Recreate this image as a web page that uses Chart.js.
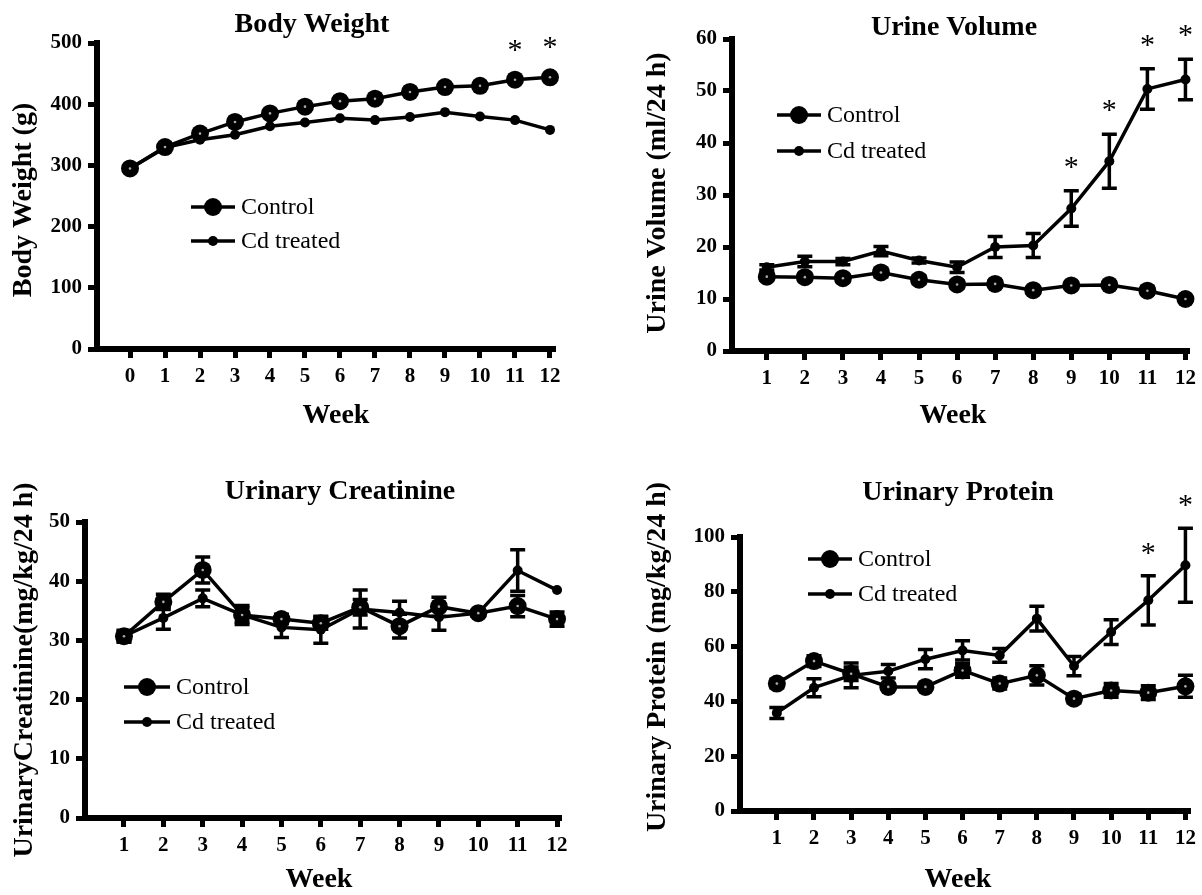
<!DOCTYPE html>
<html lang="en">
<head>
    <meta charset="UTF-8">
    <title>Body Weight and Urine Parameters</title>
    <script src="https://cdn.jsdelivr.net/npm/chart.js"></script>
    <style>
        body {
            margin: 0;
            padding: 0;
            background: #fff;
            width: 1202px;
            height: 895px;
            overflow: hidden;
            position: relative;
        }
        .panel {
            position: absolute;
            width: 601px;
            height: 448px;
        }
        canvas {
            display: block;
        }
    </style>
</head>
<body>
    <div class="panel" style="left:0;top:0"><canvas id="c1" width="601" height="448"></canvas></div>
    <div class="panel" style="left:601px;top:0"><canvas id="c2" width="601" height="448"></canvas></div>
    <div class="panel" style="left:0;top:447px"><canvas id="c3" width="601" height="448"></canvas></div>
    <div class="panel" style="left:601px;top:447px"><canvas id="c4" width="601" height="448"></canvas></div>

    <script>
        // weeks
        const weeksBW = [0, 1, 2, 3, 4, 5, 6, 7, 8, 9, 10, 11, 12];
        const weeks = [1, 2, 3, 4, 5, 6, 7, 8, 9, 10, 11, 12];

        // Body weight (g)
        const bwControl = [295, 330, 352, 371, 385, 396, 405, 409, 420, 428, 430, 440, 444];
        const bwCd = [295, 329, 342, 350, 364, 370, 377, 374, 379, 387, 380, 374, 358];
        const bwStars = [11, 12];
        const bwTicks = [0, 100, 200, 300, 400, 500];

        // Urine volume (ml/24 h)
        const uvControl = [14.3, 14.2, 14.0, 15.1, 13.7, 12.8, 12.9, 11.7, 12.6, 12.7, 11.6, 10.0];
        const uvControlErr = [0.7, 0.7, 0.7, 0.8, 0.7, 0.7, 0.6, 0.6, 0.6, 0.6, 0.7, 0.6];
        const uvCd = [16.1, 17.2, 17.2, 19.2, 17.4, 16.1, 20.0, 20.3, 27.4, 36.5, 50.4, 52.2];
        const uvCdErr = [0.5, 1.0, 0.6, 0.9, 0.5, 1.0, 2.0, 2.3, 3.4, 5.2, 3.9, 3.9];
        const uvStars = [9, 10, 11, 12];
        const uvTicks = [0, 10, 20, 30, 40, 50, 60];

        // Urinary creatinine (mg/kg/24 h)
        const ucControl = [30.7, 36.5, 41.9, 34.3, 33.6, 32.9, 35.6, 32.4, 35.7, 34.6, 35.8, 33.6];
        const ucControlErr = [1.0, 1.3, 2.2, 1.6, 0.8, 1.0, 1.3, 2.0, 1.6, 0.5, 1.8, 1.2];
        const ucCd = [30.7, 33.8, 37.1, 34.3, 32.2, 31.8, 35.3, 34.7, 33.9, 34.6, 41.8, 38.5];
        const ucCdErr = [0.8, 1.9, 1.4, 1.2, 1.7, 2.3, 3.2, 1.9, 2.2, 0.5, 3.5, 0];
        const ucTicks = [0, 10, 20, 30, 40, 50];

        // Urinary protein (mg/kg/24 h)
        const upControl = [46.5, 54.7, 50.1, 45.3, 45.3, 51.3, 46.5, 49.5, 41.0, 44.0, 43.2, 45.5];
        const upControlErr = [1.5, 2.0, 2.5, 1.0, 1.0, 2.5, 2.0, 3.5, 1.5, 2.5, 2.5, 4.0];
        const upCd = [35.8, 45.0, 49.5, 51.0, 55.4, 58.6, 56.8, 70.2, 52.9, 65.3, 76.9, 89.7];
        const upCdErr = [2.0, 3.3, 4.5, 2.5, 3.5, 3.5, 2.5, 4.5, 3.5, 4.5, 9.0, 13.5];
        const upStars = [11, 12];
        const upTicks = [0, 20, 40, 60, 80, 100];

        const serif = "'Liberation Serif', 'Times New Roman', serif";
        const W = 601, H = 448;

        // geometry in page pixels
        const panels = [
            {
                id: "c1", ox: 0, oy: 0,
                area: { left: 97, top: 43, right: 553, bottom: 349 },
                xMin: -0.943, xMax: 12.086, xs: weeksBW, yTicks: bwTicks,
                control: bwControl, cd: bwCd, controlErr: null, cdErr: null,
                stars: bwStars, starGap: 35,
                title: "Body Weight", titleX: 312, titleY: 25,
                yTitle: "Body Weight (g)", yTitleX: 24, yTitleY: 200,
                weekX: 336, weekY: 416,
                legX1: 191, legX2: 235, legY1: 207, legY2: 241
            },
            {
                id: "c2", ox: 601, oy: 0,
                area: { left: 732, top: 39, right: 1190, bottom: 351 },
                xMin: 0.086, xMax: 12.05, xs: weeks, yTicks: uvTicks,
                control: uvControl, cd: uvCd, controlErr: uvControlErr, cdErr: uvCdErr,
                stars: uvStars, starGap: 29,
                title: "Urine Volume", titleX: 954, titleY: 28,
                yTitle: "Urine Volume (ml/24 h)", yTitleX: 658, yTitleY: 193,
                weekX: 953, weekY: 416,
                legX1: 777, legX2: 821, legY1: 115, legY2: 151
            },
            {
                id: "c3", ox: 0, oy: 447,
                area: { left: 85, top: 522, right: 559, bottom: 818 },
                xMin: 0.01, xMax: 12.05, xs: weeks, yTicks: ucTicks,
                control: ucControl, cd: ucCd, controlErr: ucControlErr, cdErr: ucCdErr,
                stars: [], starGap: 29,
                title: "Urinary Creatinine", titleX: 340, titleY: 492,
                yTitle: "UrinaryCreatinine(mg/kg/24 h)", yTitleX: 25, yTitleY: 670,
                weekX: 319, weekY: 880,
                legX1: 124, legX2: 170, legY1: 687, legY2: 722
            },
            {
                id: "c4", ox: 601, oy: 447,
                area: { left: 740, top: 537, right: 1190, bottom: 811 },
                xMin: 0.008, xMax: 12.07, xs: weeks, yTicks: upTicks,
                control: upControl, cd: upCd, controlErr: upControlErr, cdErr: upCdErr,
                stars: upStars, starGap: 28,
                title: "Urinary Protein", titleX: 958, titleY: 493,
                yTitle: "Urinary Protein (mg/kg/24 h)", yTitleX: 658, yTitleY: 657,
                weekX: 958, weekY: 880,
                legX1: 808, legX2: 852, legY1: 559, legY2: 594
            }
        ];

        // error bars, asterisks, titles and legend
        const decor = {
            id: "decor",
            afterDatasetsDraw(chart) {
                const p = chart.options.plugins.decor.panel;
                const ctx = chart.ctx;
                const xS = chart.scales.x, yS = chart.scales.y;
                ctx.save();
                ctx.strokeStyle = "#000";
                ctx.fillStyle = "#000";

                // error bars
                [p.controlErr, p.cdErr].forEach((err, k) => {
                    if (!err) return;
                    const vals = k === 0 ? p.control : p.cd;
                    ctx.lineWidth = 3.5;
                    err.forEach((e, i) => {
                        if (!e) return;
                        const x = xS.getPixelForValue(p.xs[i]);
                        const y1 = yS.getPixelForValue(vals[i] + e);
                        const y2 = yS.getPixelForValue(vals[i] - e);
                        ctx.beginPath();
                        ctx.moveTo(x, y1); ctx.lineTo(x, y2);
                        ctx.moveTo(x - 7.5, y1); ctx.lineTo(x + 7.5, y1);
                        ctx.moveTo(x - 7.5, y2); ctx.lineTo(x + 7.5, y2);
                        ctx.stroke();
                    });
                });

                // small light spot in the middle of the control markers
                ctx.fillStyle = "#aaa";
                chart.getDatasetMeta(0).data.forEach((pt) => {
                    ctx.beginPath();
                    ctx.arc(pt.x, pt.y, 1.3, 0, Math.PI * 2);
                    ctx.fill();
                });
                ctx.fillStyle = "#000";

                // significance asterisks
                ctx.font = "30px " + serif;
                ctx.textAlign = "center";
                ctx.textBaseline = "alphabetic";
                p.stars.forEach((w) => {
                    const i = p.xs.indexOf(w);
                    const top = Math.max(p.control[i] + (p.controlErr ? p.controlErr[i] : 0),
                                         p.cd[i] + (p.cdErr ? p.cdErr[i] : 0));
                    const x = xS.getPixelForValue(w);
                    const y = yS.getPixelForValue(top) - p.starGap;
                    ctx.fillText("*", x, y + 14);
                });

                // texts
                const ox = p.ox, oy = p.oy;
                ctx.textBaseline = "middle";
                ctx.font = "bold 28px " + serif;
                ctx.fillText(p.title, p.titleX - ox, p.titleY - oy);
                ctx.fillText("Week", p.weekX - ox, p.weekY - oy);
                ctx.save();
                ctx.translate(p.yTitleX - ox, p.yTitleY - oy);
                ctx.rotate(-Math.PI / 2);
                ctx.fillText(p.yTitle, 0, 0);
                ctx.restore();

                // legend
                const items = [["Control", p.legY1, 9], ["Cd treated", p.legY2, 5]];
                ctx.font = "24px " + serif;
                ctx.textAlign = "left";
                items.forEach(([label, ly, r]) => {
                    const x1 = p.legX1 - ox, x2 = p.legX2 - ox, y = ly - oy;
                    ctx.lineWidth = 3.5;
                    ctx.beginPath();
                    ctx.moveTo(x1, y); ctx.lineTo(x2, y);
                    ctx.stroke();
                    ctx.beginPath();
                    ctx.arc((x1 + x2) / 2, y, r, 0, Math.PI * 2);
                    ctx.fill();
                    ctx.fillText(label, x2 + 6, y + 1);
                });
                ctx.restore();
            }
        };

        panels.forEach((p) => {
            const a = p.area;
            const yMax = p.yTicks[p.yTicks.length - 1];
            new Chart(document.getElementById(p.id), {
                type: "line",
                data: {
                    datasets: [
                        {
                            label: "Control",
                            data: p.xs.map((w, i) => ({ x: w, y: p.control[i] })),
                            borderColor: "#000",
                            borderWidth: 3.5,
                            pointRadius: 9,
                            pointBackgroundColor: "#000",
                            pointBorderWidth: 0,
                            tension: 0,
                            clip: false
                        },
                        {
                            label: "Cd treated",
                            data: p.xs.map((w, i) => ({ x: w, y: p.cd[i] })),
                            borderColor: "#000",
                            borderWidth: 3.5,
                            pointRadius: 5,
                            pointBackgroundColor: "#000",
                            pointBorderWidth: 0,
                            tension: 0,
                            clip: false
                        }
                    ]
                },
                options: {
                    responsive: false,
                    animation: false,
                    events: [],
                    layout: {
                        padding: { left: 0, top: a.top - p.oy, right: p.ox + W - a.right, bottom: 0 }
                    },
                    scales: {
                        x: {
                            type: "linear",
                            min: p.xMin,
                            max: p.xMax,
                            afterBuildTicks: (s) => { s.ticks = p.xs.map((v) => ({ value: v })); },
                            afterFit: (s) => { s.height = p.oy + H - a.bottom; },
                            grid: { drawOnChartArea: false, drawTicks: true, tickLength: 9, lineWidth: 5, color: "#000" },
                            border: { display: true, width: 6, color: "#000" },
                            ticks: { color: "#000", padding: 6, maxRotation: 0, autoSkip: false,
                                     font: { family: serif, weight: "bold", size: 21 } }
                        },
                        y: {
                            min: 0,
                            max: yMax,
                            afterBuildTicks: (s) => { s.ticks = p.yTicks.map((v) => ({ value: v })); },
                            afterFit: (s) => { s.width = a.left - p.ox; },
                            grid: { drawOnChartArea: false, drawTicks: true, tickLength: 9, lineWidth: 5, color: "#000" },
                            border: { display: true, width: 6, color: "#000" },
                            ticks: { color: "#000", padding: 6,
                                     font: { family: serif, weight: "bold", size: 21 } }
                        }
                    },
                    plugins: {
                        legend: { display: false },
                        tooltip: { enabled: false },
                        decor: { panel: p }
                    }
                },
                plugins: [decor]
            });
        });
    </script>
</body>
</html>
